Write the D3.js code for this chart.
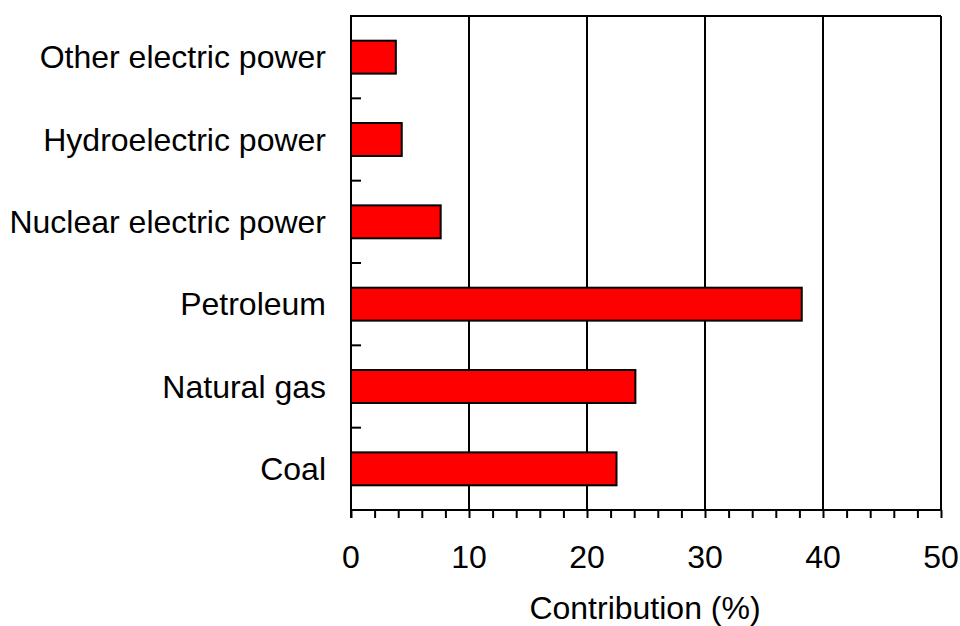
<!DOCTYPE html>
<html>
<head>
<meta charset="utf-8">
<script src="https://cdn.jsdelivr.net/npm/d3@7"></script>
<style>
  body { margin: 0; background: #fff; }
  text { font-family: "Liberation Sans", Arial, sans-serif; fill: #000; }
</style>
</head>
<body>
<svg id="chart" width="960" height="626"></svg>
<script>
// categories listed top to bottom, values in percent
var categories = ["Other electric power", "Hydroelectric power", "Nuclear electric power",
                  "Petroleum", "Natural gas", "Coal"];
var contribution = [3.8, 4.3, 7.6, 38.2, 24.1, 22.5];
var xTicks = [0, 10, 20, 30, 40, 50];
var xMinorTicks = d3.range(0, 51, 2);

var plotLeft = 351, plotRight = 941, plotTop = 16, plotBottom = 510;
var FONT = 32;

var svg = d3.select('#chart');

var x = d3.scaleLinear().domain([0, 50]).range([plotLeft, plotRight]);
var y = d3.scaleBand().domain(categories).range([plotTop, plotBottom])
  .paddingInner(0.6).paddingOuter(0.3);

// vertical gridlines at the major ticks
svg.append('g').selectAll('line')
  .data(xTicks.slice(1))
  .enter().append('line')
  .attr('x1', function(d){ return x(d); })
  .attr('x2', function(d){ return x(d); })
  .attr('y1', plotTop).attr('y2', plotBottom)
  .attr('stroke', '#000').attr('stroke-width', 2);

// top border
svg.append('line')
  .attr('x1', plotLeft).attr('x2', plotRight)
  .attr('y1', plotTop).attr('y2', plotTop)
  .attr('stroke', '#000').attr('stroke-width', 2);

// bars
svg.append('g').selectAll('rect')
  .data(categories)
  .enter().append('rect')
  .attr('x', x(0))
  .attr('y', function(d){ return y(d); })
  .attr('width', function(d, i){ return x(contribution[i]) - x(0); })
  .attr('height', y.bandwidth())
  .attr('fill', '#ff0000')
  .attr('stroke', '#000')
  .attr('stroke-width', 2);

// x axis with minor ticks every 2
var xAxis = svg.append('g').attr('transform', 'translate(0,' + plotBottom + ')');
xAxis.call(d3.axisBottom(x).tickValues(xMinorTicks).tickSize(8).tickFormat(''));
xAxis.selectAll('path, line').attr('stroke', '#000').attr('stroke-width', 2);
xAxis.select('.domain').attr('d', 'M' + plotLeft + ',0H' + plotRight);

svg.append('g').selectAll('text')
  .data(xTicks)
  .enter().append('text')
  .attr('x', function(d){ return x(d); })
  .attr('y', 568)
  .attr('text-anchor', 'middle')
  .attr('font-size', FONT)
  .text(function(d){ return d; });

svg.append('text')
  .attr('x', 645).attr('y', 619)
  .attr('text-anchor', 'middle')
  .attr('font-size', FONT)
  .text('Contribution (%)');

// y axis: ticks between categories, pointing inward
var boundaries = [];
for (var i = 0; i <= categories.length; i++) {
  if (i === 0) boundaries.push(plotTop);
  else if (i === categories.length) boundaries.push(plotBottom);
  else boundaries.push((y(categories[i - 1]) + y.bandwidth() + y(categories[i])) / 2);
}
svg.append('g').selectAll('line')
  .data(boundaries)
  .enter().append('line')
  .attr('x1', plotLeft).attr('x2', plotLeft + 10)
  .attr('y1', function(d){ return d; })
  .attr('y2', function(d){ return d; })
  .attr('stroke', '#000').attr('stroke-width', 2);

svg.append('line')
  .attr('x1', plotLeft).attr('x2', plotLeft)
  .attr('y1', plotTop - 1).attr('y2', plotBottom + 8)
  .attr('stroke', '#000').attr('stroke-width', 2);

svg.append('g').selectAll('text')
  .data(categories)
  .enter().append('text')
  .attr('x', 326)
  .attr('y', function(d){ return y(d) + y.bandwidth() / 2; })
  .attr('dy', '0.35em')
  .attr('text-anchor', 'end')
  .attr('font-size', FONT)
  .text(function(d){ return d; });
</script>
</body>
</html>
